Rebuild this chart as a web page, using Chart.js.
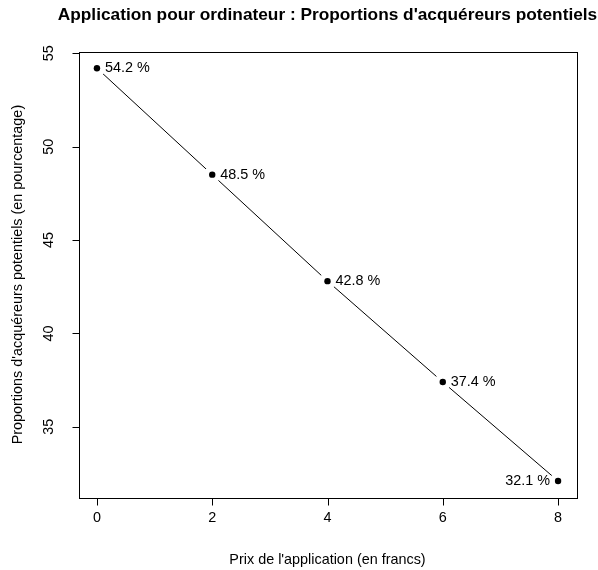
<!DOCTYPE html>
<html><head><meta charset="utf-8">
<script src="https://cdn.jsdelivr.net/npm/chart.js@4"></script>
<style>html,body{margin:0;padding:0;background:#fff}#wrap{width:598px;height:570px}</style>
</head><body><div id="wrap"><canvas id="c" width="598" height="570"></canvas></div>
<script>
const prices = [0, 2, 4, 6, 8];
const proportions = [54.2, 48.5, 42.8, 37.4, 32.1];
const pointLabels = ["54.2 %", "48.5 %", "42.8 %", "37.4 %", "32.1 %"];
const xTicks = [0, 2, 4, 6, 8];
const yTicks = [35, 40, 45, 50, 55];
const titleText = "Application pour ordinateur : Proportions d'acquéreurs potentiels";
const xTitle = "Prix de l'application (en francs)";
const yTitle = "Proportions d'acquéreurs potentiels (en pourcentage)";

const pts = prices.map((x, i) => ({x: x, y: proportions[i]}));
const FONT = '"Liberation Sans", Arial, sans-serif';

const rPlot = {
  id: 'rPlot',
  afterDraw(chart) {
    const ctx = chart.ctx, a = chart.chartArea;
    const xs = chart.scales.x, ys = chart.scales.y;
    ctx.save();
    ctx.strokeStyle = '#000'; ctx.lineWidth = 1; ctx.fillStyle = '#000';
    // box
    ctx.strokeRect(Math.round(a.left) + 0.5, Math.round(a.top) + 0.5, Math.round(a.right - a.left), Math.round(a.bottom - a.top));
    // x axis ticks
    ctx.font = '14.4px ' + FONT;
    ctx.textAlign = 'center'; ctx.textBaseline = 'middle';
    const xb = Math.round(a.bottom) + 0.5;
    ctx.beginPath();
    ctx.moveTo(Math.round(xs.getPixelForValue(xTicks[0])) + 0.5, xb);
    ctx.lineTo(Math.round(xs.getPixelForValue(xTicks[xTicks.length - 1])) + 0.5, xb);
    xTicks.forEach(v => {
      const px = Math.round(xs.getPixelForValue(v)) + 0.5;
      ctx.moveTo(px, xb); ctx.lineTo(px, xb + 7);
    });
    ctx.stroke();
    xTicks.forEach(v => ctx.fillText(String(v), xs.getPixelForValue(v), a.bottom + 21));
    // y axis ticks
    const yl = Math.round(a.left) + 0.5;
    ctx.beginPath();
    ctx.moveTo(yl, Math.round(ys.getPixelForValue(yTicks[0])) + 0.5);
    ctx.lineTo(yl, Math.round(ys.getPixelForValue(yTicks[yTicks.length - 1])) + 0.5);
    yTicks.forEach(v => {
      const py = Math.round(ys.getPixelForValue(v)) + 0.5;
      ctx.moveTo(yl, py); ctx.lineTo(yl - 7, py);
    });
    ctx.stroke();
    yTicks.forEach(v => {
      ctx.save();
      ctx.translate(a.left - 29, ys.getPixelForValue(v));
      ctx.rotate(-Math.PI / 2);
      ctx.fillText(String(v), 0, 0);
      ctx.restore();
    });
    // axis titles
    ctx.fillText(xTitle, (a.left + a.right) / 2, a.bottom + 63);
    ctx.save();
    ctx.translate(a.left - 60, (a.top + a.bottom) / 2);
    ctx.rotate(-Math.PI / 2);
    ctx.fillText(yTitle, 0, 0);
    ctx.restore();
    // title
    ctx.font = 'bold 17.28px ' + FONT;
    ctx.fillText(titleText, (a.left + a.right) / 2, 15);
    // point labels
    ctx.font = '14.4px ' + FONT;
    pts.forEach((p, i) => {
      const px = xs.getPixelForValue(p.x), py = ys.getPixelForValue(p.y);
      if (i === pts.length - 1) { ctx.textAlign = 'right'; ctx.fillText(pointLabels[i], px - 8, py); }
      else { ctx.textAlign = 'left'; ctx.fillText(pointLabels[i], px + 8, py); }
    });
    ctx.restore();
  }
};

new Chart(document.getElementById('c'), {
  type: 'scatter',
  data: {
    datasets: [
      {data: pts, order: 0, pointRadius: 3.2, pointBackgroundColor: '#000', pointBorderWidth: 0, showLine: false},
      {data: pts, order: 1, pointRadius: 8.5, pointBackgroundColor: '#fff', pointBorderWidth: 0, showLine: false},
      {data: pts, order: 2, pointRadius: 0, showLine: true, borderColor: '#000', borderWidth: 1, fill: false}
    ]
  },
  options: {
    responsive: false, animation: false,
    layout: {padding: {left: 78.5, right: 21.5, top: 51.7, bottom: 72.5}},
    plugins: {legend: {display: false}, tooltip: {enabled: false}, title: {display: false}},
    events: [],
    scales: {
      x: {type: 'linear', min: -0.32, max: 8.32, display: false},
      y: {type: 'linear', min: 31.216, max: 55.084, display: false}
    }
  },
  plugins: [rPlot]
});
</script></body></html>
